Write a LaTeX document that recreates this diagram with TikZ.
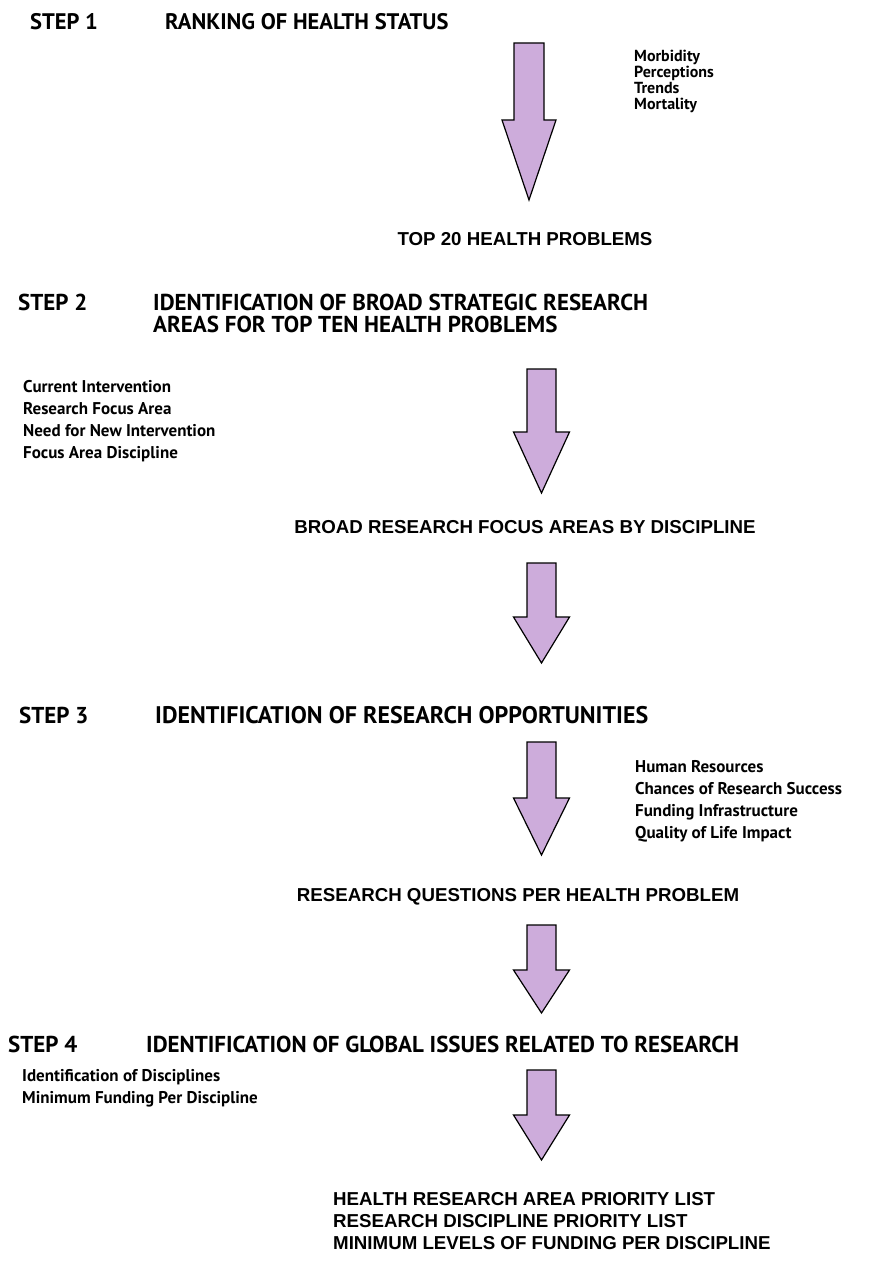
\documentclass[tikz,border=0pt]{standalone}
\usepackage{fontspec}
\usepackage{tikz}
\setmainfont{Liberation Sans}
\newfontfamily\stepfont{PT Sans}
\definecolor{lilac}{RGB}{205,172,219}

% block arrow: x, top, head start, tip, half shaft, half head
\newcommand{\flowarrow}[6]{%
  \draw[fill=lilac, line width=1.2pt, line join=miter]
    (#1-#5,#2) -- (#1+#5,#2) -- (#1+#5,#3) -- (#1+#6,#3)
    -- (#1,#4) -- (#1-#6,#3) -- (#1-#5,#3) -- cycle;}

\tikzset{
  steptitle/.style={font=\stepfont\bfseries\fontsize{23}{22}\selectfont,
    inner sep=0pt, anchor=base west, align=left},
  factors/.style={font=\stepfont\bfseries\fontsize{17}{22}\selectfont,
    inner sep=0pt, anchor=base west, align=left},
  outcome/.style={font=\bfseries\fontsize{18.7}{22}\selectfont,
    inner sep=0pt, anchor=base}
}

\begin{document}
\begin{tikzpicture}[x=1pt,y=-1pt]
\useasboundingbox (0,0) rectangle (884,1276);

% step 1 (multi-line nodes sit on their last baseline)
\node[steptitle, font=\stepfont\bfseries\fontsize{22.5}{22}\selectfont] (step1) at (30,30) {STEP 1};
\node[steptitle, font=\stepfont\bfseries\fontsize{22.5}{22}\selectfont] (rank) at (165,30) {RANKING OF HEALTH STATUS};
\node[factors, font=\stepfont\bfseries\fontsize{16}{16}\selectfont] (status) at (634,110)
  {Morbidity\\Perceptions\\Trends\\Mortality};
\flowarrow{529}{43}{120}{200}{15}{27}
\node[outcome] (top20) at (525,245) {TOP 20 HEALTH PROBLEMS};

% step 2
\node[steptitle] (step2) at (18,310) {STEP 2};
\node[steptitle] (broad) at (153,332)
  {IDENTIFICATION OF BROAD STRATEGIC RESEARCH\\AREAS FOR TOP TEN HEALTH PROBLEMS};
\node[factors] (interv) at (23,458)
  {Current Intervention\\Research Focus Area\\Need for New Intervention\\Focus Area Discipline};
\flowarrow{541.5}{369}{432}{493}{14.5}{28}
\node[outcome] (areas) at (525,533) {BROAD RESEARCH FOCUS AREAS BY DISCIPLINE};
\flowarrow{541.5}{563}{617}{663}{14.5}{28}

% step 3
\node[steptitle] (step3) at (19,723) {STEP 3};
\node[steptitle, font=\stepfont\bfseries\fontsize{24}{22}\selectfont] (opps) at (155,723) {IDENTIFICATION OF RESEARCH OPPORTUNITIES};
\node[factors] (means) at (635,838)
  {Human Resources\\Chances of Research Success\\Funding Infrastructure\\Quality of Life Impact};
\flowarrow{541.5}{742}{798}{855}{14.5}{28}
\node[outcome] (questions) at (518,901) {RESEARCH QUESTIONS PER HEALTH PROBLEM};
\flowarrow{541.5}{925}{970}{1013}{14.5}{28}

% step 4
\node[steptitle] (step4) at (8,1052) {STEP 4};
\node[steptitle] (global) at (146,1052) {IDENTIFICATION OF GLOBAL ISSUES RELATED TO RESEARCH};
\node[factors] (disc) at (22,1103)
  {Identification of Disciplines\\Minimum Funding Per Discipline};
\flowarrow{541.5}{1070}{1115}{1160}{14.5}{28}
\node[outcome, anchor=base west, align=left] (lists) at (333,1249)
  {HEALTH RESEARCH AREA PRIORITY LIST\\RESEARCH DISCIPLINE PRIORITY LIST\\MINIMUM LEVELS OF FUNDING PER DISCIPLINE};
\end{tikzpicture}
\end{document}
